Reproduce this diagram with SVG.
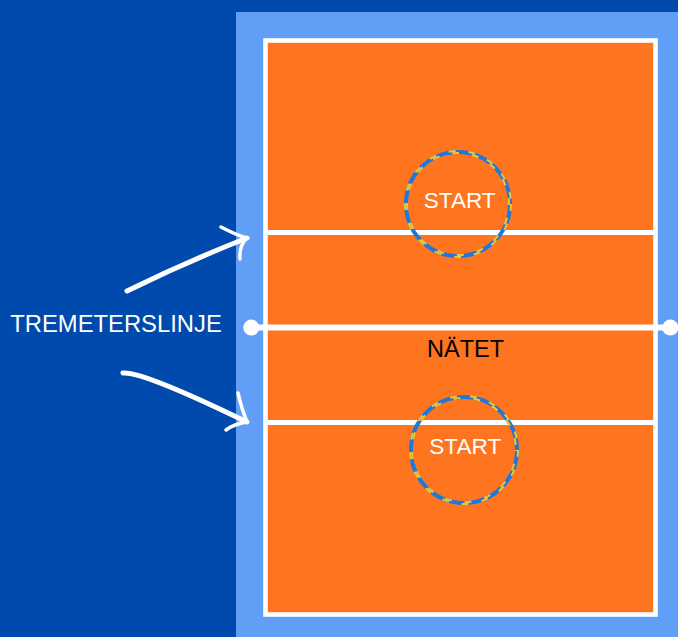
<svg xmlns="http://www.w3.org/2000/svg" width="678" height="637" viewBox="0 0 678 637">
<style>
.lbl{font-family:"Liberation Sans",Arial,sans-serif;font-size:23.5px;text-anchor:middle}
.w{fill:#ffffff}
.k{fill:#000000}
.line{stroke:#ffffff;fill:none}
.arrow{stroke:#ffffff;fill:none;stroke-linecap:round;stroke-linejoin:round}
.ropeB{fill:none;stroke:#1E78DC;stroke-width:4}
.ropeY1{fill:none;stroke:#F4C430;stroke-width:2;stroke-dasharray:7 13}
.ropeY2{fill:none;stroke:#F4C430;stroke-width:2;stroke-dasharray:7 13;stroke-dashoffset:6}
</style>
<rect x="0" y="0" width="678" height="637" fill="#004AAD"/>
<rect x="236" y="12" width="442" height="625" fill="#619EF6"/>
<g id="court">
<rect x="265.5" y="40.5" width="390" height="574" fill="#FF741F" stroke="#ffffff" stroke-width="4.6"/>
</g>
<g id="three-meter-lines">
<line class="line" x1="265" y1="232.5" x2="655" y2="232.5" stroke-width="5"/>
<line class="line" x1="265" y1="422.5" x2="655" y2="422.5" stroke-width="5"/>
</g>
<g id="net">
<line class="line" x1="251" y1="327.5" x2="670" y2="327.5" stroke-width="6"/>
<circle cx="251.3" cy="327.6" r="8" fill="#ffffff"/>
<circle cx="670.3" cy="327.6" r="8" fill="#ffffff"/>
<text class="lbl k" x="465.5" y="356.5">NÄTET</text>
</g>
<g id="start-top">
<circle class="ropeB" cx="458" cy="204" r="52"/>
<circle class="ropeY1" cx="458" cy="204" r="53"/>
<circle class="ropeY2" cx="458" cy="204" r="51"/>
<text class="lbl w" x="459.7" y="207.7" style="font-size:22.6px">START</text>
</g>
<g id="start-bottom">
<circle class="ropeB" cx="464" cy="450" r="53"/>
<circle class="ropeY1" cx="464" cy="450" r="54"/>
<circle class="ropeY2" cx="464" cy="450" r="52"/>
<text class="lbl w" x="465.3" y="454" style="font-size:22.6px">START</text>
</g>
<g id="label-tremeterslinje">
<text class="lbl w" x="116" y="331.7" style="font-size:23.8px">TREMETERSLINJE</text>
</g>
<g id="connectors">
<path class="arrow" d="M127,291 Q186,262 247,238" stroke-width="5"/>
<path class="arrow" d="M221,227 Q236,235 247,238 Q239,245 240,259" stroke-width="3.5"/>
<path class="arrow" d="M123,373 Q142,371 247,422" stroke-width="5"/>
<path class="arrow" d="M238,393 Q242,410 247,422 Q234,424 226,430" stroke-width="3.5"/>
</g>
</svg>
